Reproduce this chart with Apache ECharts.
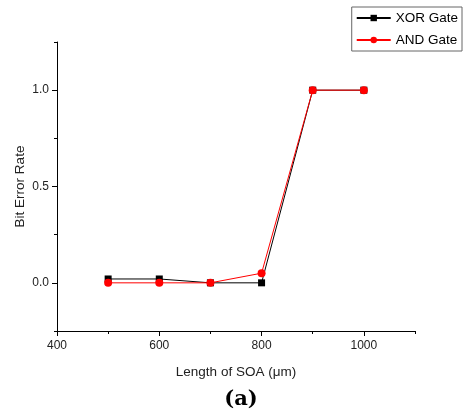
<!DOCTYPE html>
<html>
<head>
<meta charset="utf-8">
<script src="https://cdn.jsdelivr.net/npm/echarts@6/dist/echarts.min.js"></script>
<style>
  html, body { margin: 0; padding: 0; background: #fff; }
  #chart { width: 464px; height: 412px; }
</style>
</head>
<body>
<div id="chart"></div>
<script>
// SOA length (μm)
const lengths = [500, 600, 700, 800, 900, 1000];
const xorBer = [0.02, 0.02, 0, 0, 1, 1];
const andBer = [0, 0, 0, 0.05, 1, 1];

const xMajor = [400, 600, 800, 1000];
const xMinor = [500, 700, 900, 1100];
const yMajor = [0, 0.5, 1];
const yMinor = [-0.25, 0.25, 0.75, 1.25];

const chart = echarts.init(document.getElementById('chart'));
const font = 'Liberation Sans, Arial, sans-serif';

const axisBase = {
  type: 'value',
  splitLine: { show: false },
  axisLine: { show: true, onZero: false, lineStyle: { color: '#000', width: 1 } },
};

chart.setOption({
  animation: false,
  backgroundColor: '#fff',
  textStyle: { fontFamily: font },
  title: {
    text: '(a)',
    left: 236,
    top: 384,
    textAlign: 'center',
    textStyle: { fontFamily: 'DejaVu Serif', fontWeight: 'bold', fontSize: 21, color: '#000' },
  },
  legend: {
    right: 2,
    top: 7,
    orient: 'vertical',
    itemWidth: 34,
    itemHeight: 8,
    itemGap: 8,
    padding: [4, 4, 4, 4],
    borderColor: '#666',
    borderWidth: 1,
    borderRadius: 0,
    textStyle: { fontSize: 13.5, color: '#000', fontFamily: font },
    data: ['XOR Gate', 'AND Gate'],
  },
  grid: { left: 57, right: 49, top: 42, bottom: 81, outerBoundsMode: 'none' },
  xAxis: [
    {
      ...axisBase,
      min: 400,
      max: 1100,
      interval: 100,
      name: 'Length of SOA (μm)',
      nameLocation: 'middle',
      nameGap: 34,
      nameMoveOverlap: false,
      nameTextStyle: { fontSize: 13.5, color: '#222', fontFamily: font },
      axisTick: { show: true, customValues: xMajor, length: 5, lineStyle: { color: '#000' } },
      axisLabel: { customValues: xMajor, color: '#222', fontSize: 12, margin: 9, formatter: v => String(v) },
    },
    {
      ...axisBase,
      min: 400,
      max: 1100,
      interval: 100,
      position: 'bottom',
      axisLine: { show: false, onZero: false },
      axisTick: { show: true, customValues: xMinor, length: 3, lineStyle: { color: '#000' } },
      axisLabel: { show: false },
    },
  ],
  yAxis: [
    {
      ...axisBase,
      min: -0.25,
      max: 1.25,
      interval: 0.25,
      name: 'Bit Error Rate',
      nameLocation: 'middle',
      nameGap: 30,
      nameMoveOverlap: false,
      nameTextStyle: { fontSize: 13.5, color: '#222', fontFamily: font },
      axisTick: { show: true, customValues: yMajor, length: 5, lineStyle: { color: '#000' } },
      axisLabel: {
        customValues: yMajor,
        color: '#222',
        fontSize: 12,
        margin: 8,
        formatter: v => v.toFixed(1),
      },
    },
    {
      ...axisBase,
      min: -0.25,
      max: 1.25,
      interval: 0.25,
      position: 'left',
      axisLine: { show: false, onZero: false },
      axisTick: { show: true, customValues: yMinor, length: 3, lineStyle: { color: '#000' } },
      axisLabel: { show: false },
    },
  ],
  series: [
    {
      name: 'XOR Gate',
      type: 'line',
      data: lengths.map((x, i) => [x, xorBer[i]]),
      symbol: 'rect',
      symbolSize: 7,
      color: '#000',
      lineStyle: { color: '#000', width: 1 },
      itemStyle: { color: '#000' },
    },
    {
      name: 'AND Gate',
      type: 'line',
      data: lengths.map((x, i) => [x, andBer[i]]),
      symbol: 'circle',
      symbolSize: 8,
      color: '#ff0000',
      lineStyle: { color: '#ff0000', width: 1 },
      itemStyle: { color: '#ff0000' },
    },
  ],
});
</script>
</body>
</html>
